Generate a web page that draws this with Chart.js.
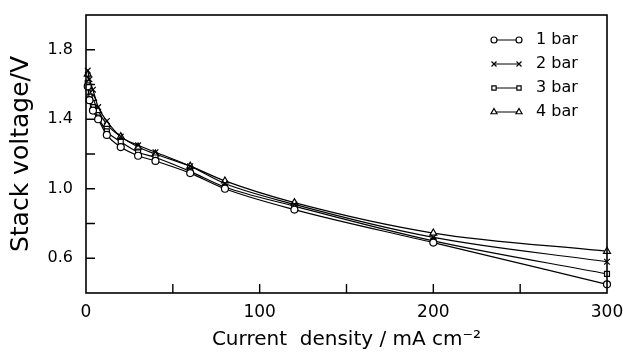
<!DOCTYPE html>
<html>
<head>
<meta charset="utf-8">
<script src="https://cdn.jsdelivr.net/npm/chart.js@4.4.1/dist/chart.umd.min.js"></script>
<style>
  html, body { margin: 0; padding: 0; background: #fff; }
  #wrap { width: 623px; height: 352px; position: relative; }
</style>
</head>
<body>
<div id="wrap"><canvas id="stackChart"></canvas></div>
<script>
// Dane
const currentDensity = [1, 2, 4, 7, 12, 20, 30, 40, 60, 80, 120, 200, 300];
const voltage1bar = [1.59, 1.51, 1.45, 1.40, 1.31, 1.24, 1.19, 1.16, 1.09, 1.00, 0.88, 0.69, 0.45];
const voltage2bar = [1.68, 1.63, 1.57, 1.47, 1.39, 1.30, 1.25, 1.21, 1.13, 1.03, 0.91, 0.72, 0.58];
const voltage3bar = [1.61, 1.53, 1.47, 1.41, 1.33, 1.27, 1.21, 1.18, 1.10, 1.01, 0.90, 0.70, 0.51];
const voltage4bar = [1.66, 1.58, 1.52, 1.45, 1.37, 1.30, 1.24, 1.20, 1.13, 1.045, 0.92, 0.745, 0.64];
const seriesLabels = ['1 bar', '2 bar', '3 bar', '4 bar'];
const xTickLabels = [0, 100, 200, 300];
const yTickLabels = [0.6, 1.0, 1.4, 1.8];

const FONT = 'DejaVu Sans';

function toPoints(values) {
  return values.map((v, i) => ({ x: currentDensity[i], y: v }));
}

function makeDataset(label, values, style, radius) {
  return {
    label: label,
    data: toPoints(values),
    borderColor: '#000',
    backgroundColor: '#fff',
    borderWidth: 1.2,
    pointStyle: style,
    pointRadius: radius,
    pointBorderWidth: 1.2,
    pointBackgroundColor: '#fff',
    pointBorderColor: '#000',
    cubicInterpolationMode: 'monotone',
    clip: false
  };
}

// Ramka, znaczniki osi skierowane do wewnątrz i legenda
const framePlugin = {
  id: 'frame',
  afterDatasetsDraw(chart) {
    const { ctx, chartArea: a, scales } = chart;
    ctx.save();
    ctx.strokeStyle = '#000';
    ctx.lineWidth = 1.6;
    ctx.strokeRect(a.left, a.top, a.right - a.left, a.bottom - a.top);

    ctx.lineWidth = 1.4;
    ctx.beginPath();
    scales.y.ticks.forEach(t => {
      const py = scales.y.getPixelForValue(t.value);
      if (py <= a.top + 1 || py >= a.bottom - 1) return;
      ctx.moveTo(a.left, py);
      ctx.lineTo(a.left + 9, py);
    });
    scales.x.ticks.forEach(t => {
      const px = scales.x.getPixelForValue(t.value);
      if (px <= a.left + 1 || px >= a.right - 1) return;
      ctx.moveTo(px, a.bottom);
      ctx.lineTo(px, a.bottom - 9);
    });
    ctx.stroke();

    // Legenda: znacznik — linia — znacznik, potem tekst
    const x0 = 494, x1 = 519, textX = 536;
    ctx.font = '16px "' + FONT + '"';
    ctx.textBaseline = 'middle';
    ctx.textAlign = 'left';
    chart.data.datasets.forEach((ds, i) => {
      const y = 40 + i * 24;
      ctx.strokeStyle = '#000';
      ctx.lineWidth = 1;
      ctx.beginPath();
      ctx.moveTo(x0, y);
      ctx.lineTo(x1, y);
      ctx.stroke();
      ctx.fillStyle = '#fff';
      ctx.lineWidth = 1.2;
      [x0, x1].forEach(px => {
        Chart.helpers.drawPoint(ctx, {
          pointStyle: ds.pointStyle, radius: ds.pointRadius - 0.5,
          rotation: 0, borderWidth: 1.2
        }, px, y);
      });
      ctx.fillStyle = '#000';
      ctx.fillText(ds.label, textX, y);
    });
    ctx.restore();
  }
};

function initStackChart() {
  const ctx = document.getElementById('stackChart');
  if (!ctx) return;

  new Chart(ctx, {
    type: 'line',
    data: {
      datasets: [
        makeDataset(seriesLabels[0], voltage1bar, 'circle', 3.5),
        makeDataset(seriesLabels[1], voltage2bar, 'crossRot', 4),
        makeDataset(seriesLabels[2], voltage3bar, 'rect', 3.5),
        makeDataset(seriesLabels[3], voltage4bar, 'triangle', 4)
      ]
    },
    options: {
      responsive: true,
      maintainAspectRatio: false,
      animation: false,
      layout: { padding: { top: 15, right: 16, left: 0, bottom: 0 } },
      plugins: {
        legend: { display: false },
        tooltip: { enabled: false }
      },
      scales: {
        x: {
          type: 'linear',
          min: 0,
          max: 300,
          afterFit: scale => {
            scale.height = 59;
            scale.paddingLeft = 0;
            scale.paddingRight = 0;
          },
          grid: { display: false, drawTicks: false },
          border: { display: false },
          ticks: {
            stepSize: 50,
            padding: 9,
            color: '#000',
            maxRotation: 0,
            autoSkip: false,
            font: { family: FONT, size: 17 },
            callback: v => xTickLabels.includes(v) ? String(v) : ''
          },
          title: {
            display: true,
            text: 'Current  density / mA cm\u207B\u00B2',
            color: '#000',
            font: { family: FONT, size: 20 },
            padding: { top: 0, bottom: 0 }
          }
        },
        y: {
          min: 0.4,
          max: 2.0,
          afterFit: scale => {
            scale.width = 86;
            scale.paddingTop = 0;
            scale.paddingBottom = 0;
          },
          grid: { display: false, drawTicks: false },
          border: { display: false },
          ticks: {
            stepSize: 0.2,
            padding: 13,
            color: '#000',
            autoSkip: false,
            font: { family: FONT, size: 16 },
            callback: v => {
              const hit = yTickLabels.find(t => Math.abs(t - v) < 1e-6);
              return hit !== undefined ? hit.toFixed(1) : '';
            }
          },
          title: {
            display: true,
            text: 'Stack voltage/V',
            color: '#000',
            font: { family: FONT, size: 25 },
            padding: { top: 6, bottom: 0 }
          }
        }
      }
    },
    plugins: [framePlugin]
  });
}

document.addEventListener('DOMContentLoaded', initStackChart);
</script>
</body>
</html>
